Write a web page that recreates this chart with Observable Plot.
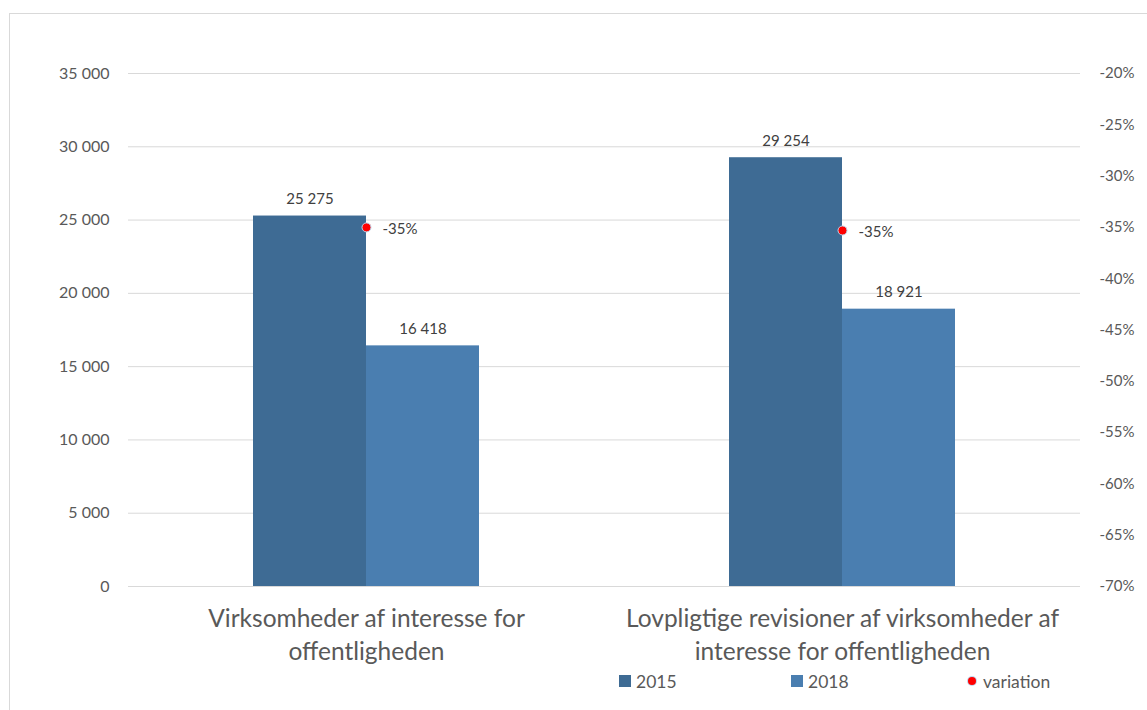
<!DOCTYPE html>
<html>
<head>
<meta charset="utf-8">
<script src="https://cdn.jsdelivr.net/npm/d3@7"></script>
<script src="https://cdn.jsdelivr.net/npm/@observablehq/plot@0.6"></script>
<style>
  html, body { margin: 0; padding: 0; background: #fff; overflow: hidden; }
  body { width: 1147px; height: 710px; position: relative; font-family: Lato, sans-serif; }
  #frame { position: absolute; left: 9px; top: 13px; width: 1200px; height: 800px; border: 1px solid #d9d9d9; box-sizing: border-box; }
  #chart { position: absolute; left: 0; top: 0; }
  .legend { position: absolute; top: 668px; left: 0; width: 1147px; height: 30px; font-size: 17.5px; color: #595959; }
  .legend .item { position: absolute; top: 0; display: flex; align-items: center; height: 26px; }
  .legend .sw { width: 12px; height: 12px; margin-right: 5px; }
  .legend .dot { width: 8px; height: 8px; border-radius: 50%; background: #ff0000; box-shadow: 0 0 0 1px #bdd7ee; margin-right: 7px; }
</style>
</head>
<body>
<div id="frame"></div>
<div id="chart"></div>
<div class="legend">
  <div class="item" style="left:619px"><span class="sw" style="background:#3e6b94"></span>2015</div>
  <div class="item" style="left:791px"><span class="sw" style="background:#4a7eb0"></span>2018</div>
  <div class="item" style="left:968px"><span class="dot"></span>variation</div>
</div>
<script>
// Categories (group labels, broken over two lines)
const categories = [
  "Virksomheder af interesse for\noffentligheden",
  "Lovpligtige revisioner af virksomheder af\ninteresse for offentligheden"
];
const years = ["2015", "2018"];
const values2015 = [25275, 29254];
const values2018 = [16418, 18921];
// Change from 2015 to 2018 (right axis)
const variation = [-0.350, -0.353];

// Axis ticks
const leftTicks = [0, 5000, 10000, 15000, 20000, 25000, 30000, 35000];
const rightTicks = [-0.70, -0.65, -0.60, -0.55, -0.50, -0.45, -0.40, -0.35, -0.30, -0.25, -0.20];

const colors = ["#3e6b94", "#4a7eb0"];
const leftDomain = [0, 35000];
const rightDomain = [-0.70, -0.20];

// Map the right-axis percentage onto the shared y scale
const pctToY = p => (p - rightDomain[0]) / (rightDomain[1] - rightDomain[0]) * (leftDomain[1] - leftDomain[0]) + leftDomain[0];

const locale = d3.formatLocale({decimal: ",", thousands: " ", grouping: [3], currency: ["", " kr."]});
const fmtNum = locale.format(",d");
const fmtPct = p => `${Math.round(p * 100)}%`;

const bars = categories.flatMap((c, i) => [
  {category: c, year: years[0], value: values2015[i]},
  {category: c, year: years[1], value: values2018[i]}
]);
const changes = categories.map((c, i) => ({category: c, variation: variation[i]}));
const groups = categories.map(c => ({category: c}));

const chart = Plot.plot({
  width: 1147,
  height: 665,
  marginTop: 73,
  marginLeft: 127,
  marginRight: 67,
  marginBottom: 79,
  style: {fontFamily: "Lato, sans-serif", fontSize: "16px", color: "#595959", background: "transparent", overflow: "visible"},
  fx: {domain: categories, paddingInner: 0, paddingOuter: 0, axis: null, label: null},
  x: {domain: years, paddingInner: 0, paddingOuter: 1.1, axis: null, label: null},
  y: {domain: leftDomain, axis: null, label: null},
  color: {domain: years, range: colors},
  marks: [
    Plot.gridY(leftTicks, {stroke: "#d9d9d9", strokeOpacity: 1, strokeWidth: 1}),
    Plot.axisY(leftTicks, {anchor: "left", tickSize: 0, tickPadding: 19, tickFormat: fmtNum, fill: "#595959", fontSize: 16, label: null}),
    Plot.axisY(rightTicks.map(pctToY), {anchor: "right", tickSize: 0, tickPadding: 19, tickFormat: y => fmtPct(rightDomain[0] + (y - leftDomain[0]) / (leftDomain[1] - leftDomain[0]) * (rightDomain[1] - rightDomain[0])), fill: "#595959", fontSize: 15, label: null}),
    Plot.barY(bars, {fx: "category", x: "year", y: "value", fill: "year", inset: 0}),
    Plot.text(bars, {fx: "category", x: "year", y: "value", text: d => fmtNum(d.value), dy: -17, fill: "#404040", fontSize: 15}),
    Plot.dot(changes, {fx: "category", y: d => pctToY(d.variation), r: 4.5, fill: "#ff0000", stroke: "#bdd7ee", strokeWidth: 1}),
    Plot.text(changes, {fx: "category", y: d => pctToY(d.variation), text: d => fmtPct(d.variation), dx: 16, dy: 2, textAnchor: "start", fill: "#404040", fontSize: 15}),
    Plot.text(groups, {fx: "category", text: "category", frameAnchor: "bottom", lineAnchor: "top", dy: 18, fontSize: 24.5, lineHeight: 1.32, fill: "#595959"})
  ]
});
document.getElementById("chart").appendChild(chart);
</script>
</body>
</html>
